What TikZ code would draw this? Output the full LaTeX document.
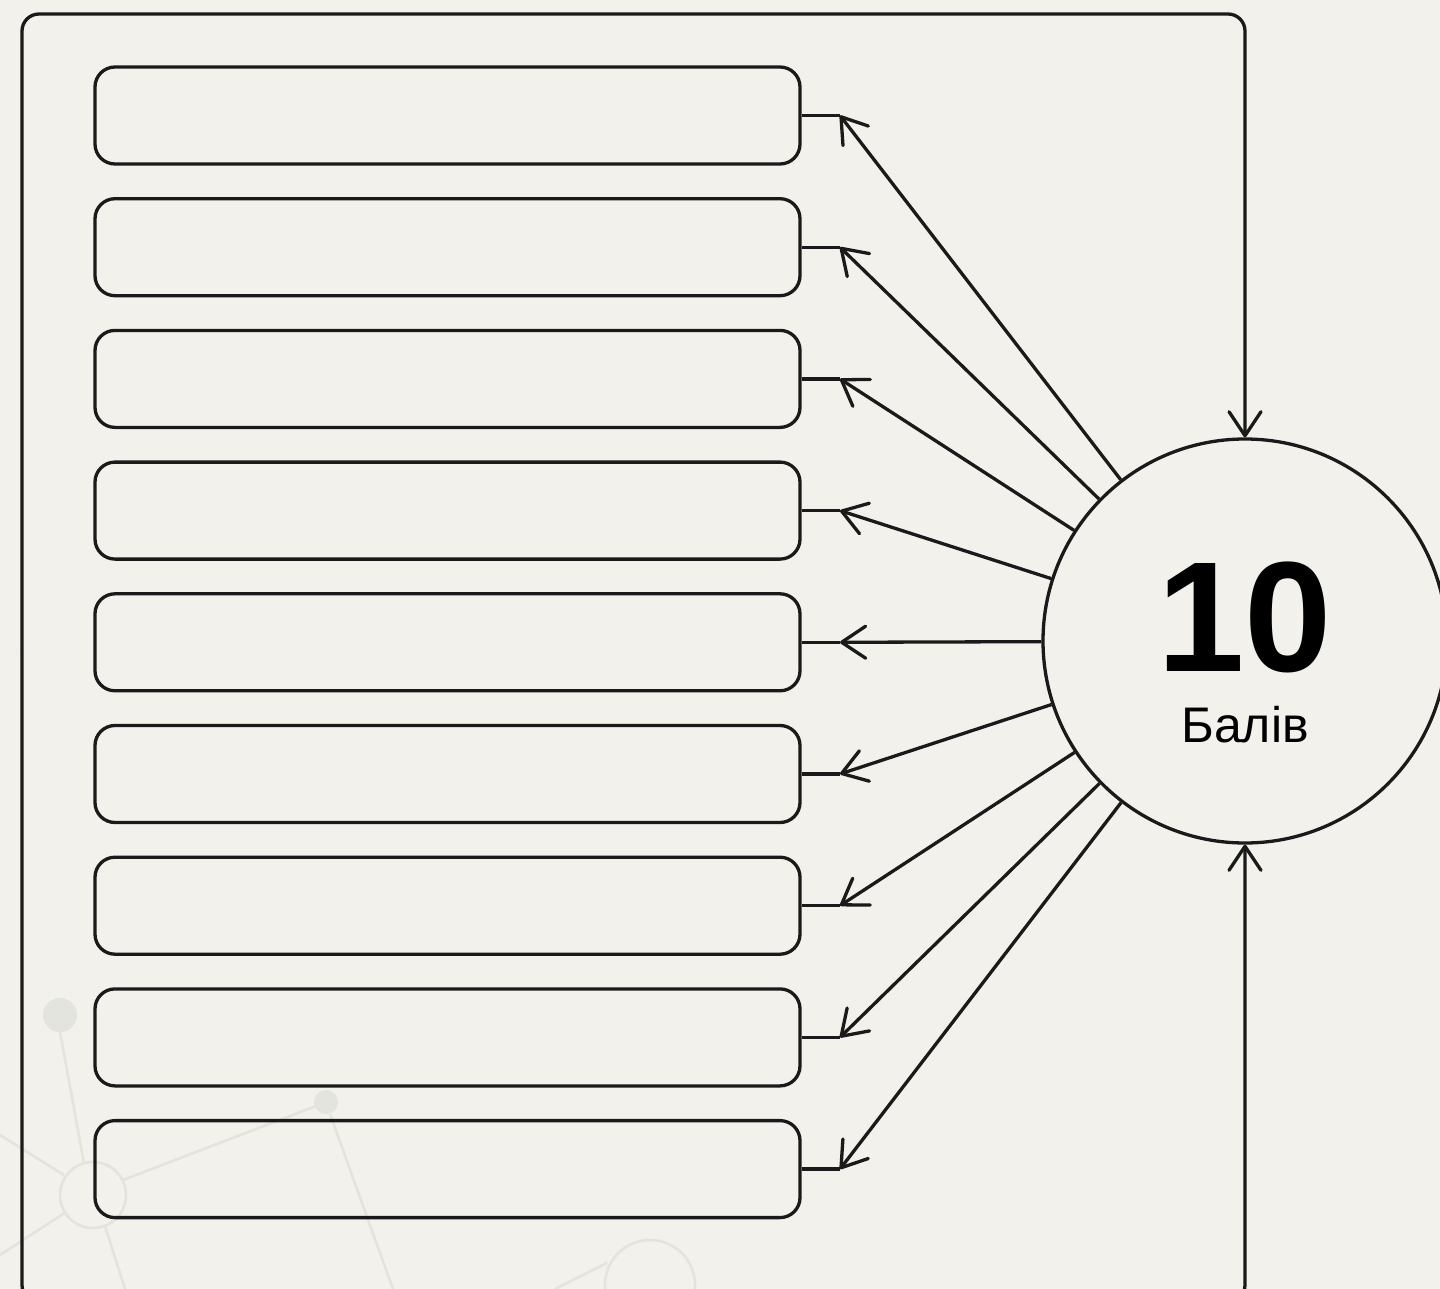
\documentclass[tikz,border=0pt]{standalone}
\usepackage{fontspec}
\setmainfont{Liberation Sans}
\usetikzlibrary{arrows.meta}
\definecolor{bg}{HTML}{F2F1EB}
\definecolor{ink}{HTML}{1A1A1A}
\definecolor{decor}{HTML}{E4E4DF}
\tikzset{
  x=1pt, y=-1pt,
  line/.style={draw=ink, line width=3.3pt},
  itembox/.style={line, rounded corners=20pt, minimum width=705pt, minimum height=97pt, inner sep=0pt},
  arr/.style={line, -{Straight Barb[length=24pt,width=32pt,round]}},
  deco/.style={draw=decor, line width=2.6pt},
}
\begin{document}
\begin{tikzpicture}
\path[use as bounding box, fill=bg] (0,0) rectangle (1440,1289);
\clip (0,0) rectangle (1440,1289);
% faint background decoration
\fill[decor] (60,1015) circle (17);
\fill[decor] (326,1102) circle (12);
\draw[deco] (93,1195) circle (33);
\draw[deco] (650,1285) circle (45);
\draw[deco] (60,1032) -- (84,1163);
\draw[deco] (123,1180) -- (316,1106);
\draw[deco] (64,1175) -- (0,1135);
\draw[deco] (66,1212) -- (0,1255);
\draw[deco] (105,1226) -- (125,1289);
\draw[deco] (330,1114) -- (393,1289);
\draw[deco] (607,1263) -- (555,1289);
% frame and ring
\node[line, circle, minimum size=404pt, inner sep=0pt] (ring) at (1245,641) {};
\node[inner sep=0pt, font=\bfseries\fontsize{157}{157}\selectfont] (num) at (1245,617) {10};
\node[inner sep=0pt, font=\fontsize{50}{50}\selectfont] (lbl) at (1245,725) {Балів};
\coordinate (fl) at (22,650);
\coordinate (ftr) at (1245,14);
\coordinate (fbr) at (1245,1302);
\draw[arr, rounded corners=17pt] (fl) |- (ftr) -- (ring.north);
\draw[arr, rounded corners=17pt] (fl) |- (fbr) -- (ring.south);
% boxes
\foreach \i in {1,...,9}{
  \pgfmathsetmacro{\yy}{115.5+131.7*(\i-1)}
  \node[itembox] (b\i) at (447.5,\yy) {};
  \coordinate (t\i) at (840,\yy);
  \draw[line] (b\i.east) -- (t\i);
  \draw[arr] (ring) -- (t\i);
}
\end{tikzpicture}
\end{document}
